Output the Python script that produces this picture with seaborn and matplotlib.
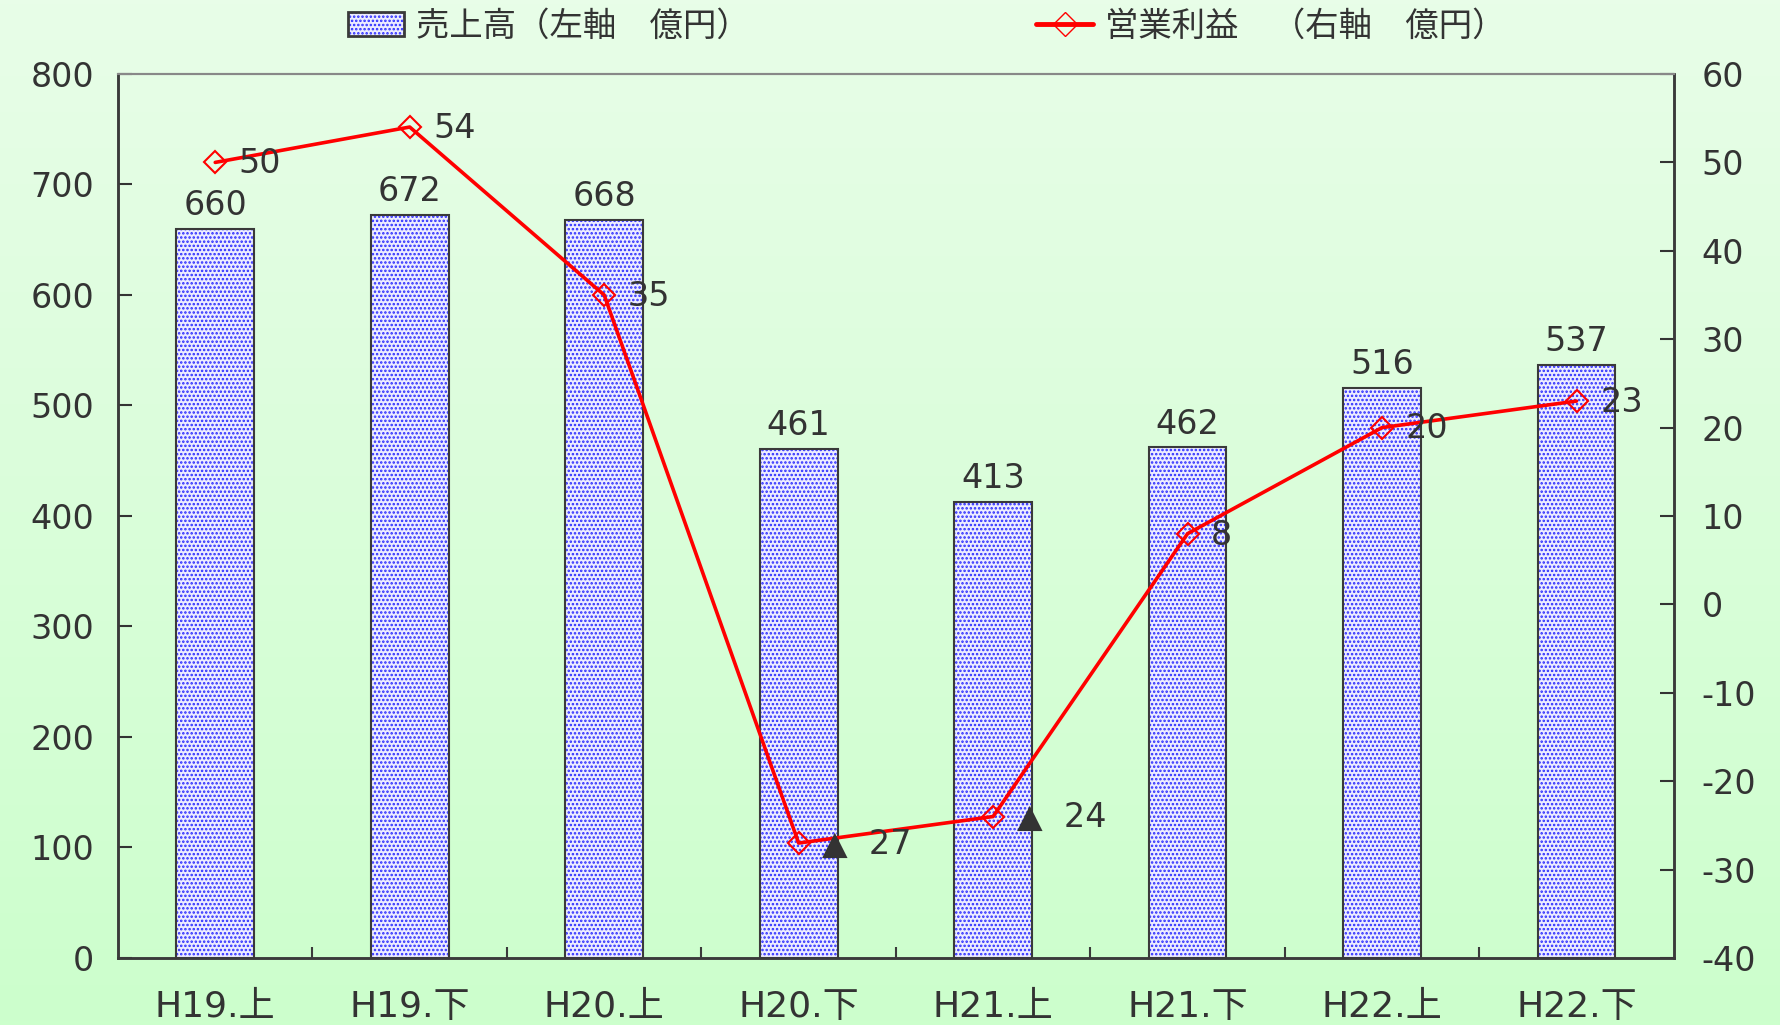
import numpy as np
import pandas as pd
import seaborn as sns
import matplotlib.pyplot as plt
from matplotlib.lines import Line2D
from matplotlib.patches import Patch

# データ
periods = ["H19.上", "H19.下", "H20.上", "H20.下", "H21.上", "H21.下", "H22.上", "H22.下"]
sales = [660, 672, 668, 461, 413, 462, 516, 537]          # 売上高（左軸 億円）
profit = [50, 54, 35, -27, -24, 8, 20, 23]                # 営業利益（右軸 億円）

df = pd.DataFrame({"period": periods, "sales": sales, "profit": profit})
df["pos"] = range(len(df))

sns.set_style("ticks")
plt.rcParams['font.family'] = ['DejaVu Sans', 'Noto Sans CJK JP']
plt.rcParams['axes.unicode_minus'] = False
plt.rcParams['hatch.linewidth'] = 1.2

txt = "#333333"
fig = plt.figure(figsize=(17.8, 10.25), dpi=100)

# 背景グラデーション
bg = fig.add_axes([0, 0, 1, 1], zorder=-10)
grad = np.linspace(0, 1, 256).reshape(-1, 1)
top_c = np.array([232, 253, 232]) / 255
bot_c = np.array([204, 255, 204]) / 255
img = top_c[None, None, :] * (1 - grad[:, :, None]) + bot_c[None, None, :] * grad[:, :, None]
bg.imshow(img, aspect="auto", extent=[0, 1, 0, 1])
bg.axis("off")

ax = fig.add_axes([0.0663, 0.0654, 0.874, 0.8624])
ax.set_facecolor("none")

# 棒グラフ（ドット模様）
sns.barplot(data=df, x="pos", y="sales", ax=ax, width=0.4, saturation=1,
            color="#ececff", edgecolor="#2a2aff", linewidth=0, hatch="....",
            native_scale=True)
ax.bar(df["pos"], df["sales"], width=0.4, fill=False, edgecolor="#3a3a3a", linewidth=1.5)
for i, v in enumerate(sales):
    ax.annotate(str(v), (i, v), xytext=(0, 5), textcoords="offset points",
                ha="center", va="bottom", fontsize=24, color=txt)

ax.set_xlim(-0.5, 7.5)
ax.set_ylim(0, 800)
ax.set_yticks(range(0, 801, 100))
ax.set_xticks(df["pos"])
ax.set_xticklabels(periods)
ax.set_xticks(np.arange(0.5, 7, 1), minor=True)
ax.set_xlabel("")
ax.set_ylabel("")
ax.tick_params(axis="x", which="major", length=0, pad=23, labelsize=26, colors=txt)
ax.tick_params(axis="x", which="minor", length=8, direction="in", width=1.5, color="#3a3a3a")
ax.tick_params(axis="y", length=10, direction="in", width=1.5, pad=17, labelsize=24,
               colors=txt)

# 営業利益（右軸）
ax2 = ax.twinx()
ax2.set_facecolor("none")
sns.lineplot(data=df, x="pos", y="profit", ax=ax2, color="#ff0000", linewidth=2.6,
             marker="D", markersize=11, markerfacecolor="none",
             markeredgecolor="#ff0000", markeredgewidth=1.5)
for i, v in enumerate(profit):
    lab = str(v) if v >= 0 else "▲  " + str(-v)
    ax2.annotate(lab, (i, v), xytext=(17, -1), textcoords="offset points",
                 ha="left", va="center", fontsize=24, color=txt)

ax2.set_ylim(-40, 60)
ax2.set_yticks(range(-40, 61, 10))
ax2.set_ylabel("")
ax2.tick_params(axis="y", length=10, direction="in", width=1.5, pad=20, labelsize=24,
                colors=txt)

for a in (ax, ax2):
    for s in ("left", "right", "bottom"):
        a.spines[s].set_color("#3a3a3a")
        a.spines[s].set_linewidth(1.8)
    a.spines["top"].set_color("#888888")
    a.spines["top"].set_linewidth(1.5)

# 凡例
h1 = (Patch(facecolor="#ececff", edgecolor="#2a2aff", hatch="....", linewidth=0),
      Patch(fill=False, edgecolor="#3a3a3a", linewidth=2))
h2 = Line2D([], [], color="#ff0000", linewidth=3.5, marker="D", markersize=12,
            markerfacecolor="none", markeredgecolor="#ff0000")
fig.legend([h1, h2], ["売上高（左軸　億円）", "営業利益　（右軸　億円）"],
           loc="upper center", bbox_to_anchor=(0.5205, 1.02), ncol=2, frameon=False,
           fontsize=24, columnspacing=8.6, handlelength=1.7, handletextpad=0.35,
           labelcolor=txt)

fig.savefig("out.png", dpi=100)
